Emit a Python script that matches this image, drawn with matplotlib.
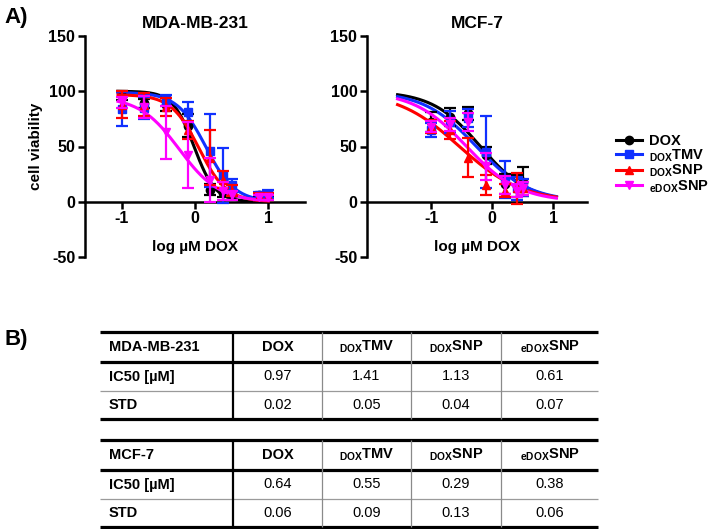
import numpy as np
import matplotlib
matplotlib.use('Agg')
import matplotlib.pyplot as plt
from matplotlib.lines import Line2D

plt.rcParams['font.family'] = ['Liberation Sans', 'DejaVu Sans']
plt.rcParams['font.weight'] = 'bold'
plt.rcParams['axes.unicode_minus'] = False
plt.rcParams['mathtext.fontset'] = 'custom'
plt.rcParams['mathtext.rm'] = 'Liberation Sans:bold'
plt.rcParams['mathtext.bf'] = 'Liberation Sans:bold'
plt.rcParams['mathtext.it'] = 'Liberation Sans:bold'

# DATA
series = ['DOX', r'$_{\mathrm{DOX}}$TMV', r'$_{\mathrm{DOX}}$SNP', r'$_{\mathrm{eDOX}}$SNP']
colors = ['black', '#1030ff', '#ff0000', '#ff00ff']
markers = ['o', 's', '^', 'v']

# MDA-MB-231, log uM DOX
mda_x = [-1.0, -0.7, -0.4, -0.1, 0.2, 0.38, 0.5, 0.87, 1.0]
mda_y = [
    [96, 89, 88, 69, 11, 8, 7, 6, 6],
    [84, 85, 92, 81, 46, 24, 15, 6, 7],
    [88, 88, 86, 65, 40, 20, 10, 5, 5],
    [90, 86, 63, 42, 20, 10, 6, 4, 4],
]
mda_err = [
    [4, 4, 6, 10, 5, 4, 3, 2, 2],
    [15, 10, 5, 9, 33, 25, 6, 3, 4],
    [12, 10, 8, 8, 25, 8, 5, 3, 3],
    [5, 10, 24, 30, 20, 8, 4, 2, 2],
]
mda_top = [100, 99, 97, 95]
mda_hill = [3.0, 2.2, 2.3, 1.6]

# MCF-7
mcf_x = [-1.0, -0.7, -0.4, -0.1, 0.2, 0.4, 0.5]
mcf_y = [
    [72, 77, 80, 42, 16, 14, 18],
    [65, 72, 76, 45, 20, 12, 13],
    [68, 65, 40, 15, 10, 12, 12],
    [68, 70, 72, 32, 15, 10, 12],
]
mcf_err = [
    [9, 8, 6, 8, 9, 10, 13],
    [6, 10, 8, 33, 17, 10, 8],
    [6, 8, 18, 9, 6, 14, 6],
    [5, 6, 8, 12, 8, 6, 6],
]
mcf_top = [100, 100, 100, 100]
mcf_hill = [1.1, 1.0, 0.85, 1.0]

# table values
col_heads = ['DOX', r'$_{\mathrm{DOX}}$TMV', r'$_{\mathrm{DOX}}$SNP', r'$_{\mathrm{eDOX}}$SNP']
mda_ic50 = [0.97, 1.41, 1.13, 0.61]
mda_std = [0.02, 0.05, 0.04, 0.07]
mcf_ic50 = [0.64, 0.55, 0.29, 0.38]
mcf_std = [0.06, 0.09, 0.13, 0.06]


def curva(x, top, ic50, hill):
    return top / (1 + 10 ** ((x - np.log10(ic50)) * hill))


def painel(ax, xs, ys, errs, tops, ic50s, hills, xcurve, titulo, xlim):
    for i in [3, 2, 1, 0]:
        xc = np.linspace(xcurve[0], xcurve[1], 200)
        ax.plot(xc, curva(xc, tops[i], ic50s[i], hills[i]), color=colors[i], lw=2.2, zorder=2 + i)
        ax.errorbar(xs, ys[i], yerr=errs[i], fmt=markers[i], color=colors[i], ms=6,
                    capsize=4, elinewidth=1.6, capthick=1.6, zorder=3 + i)
    ax.set_xlim(*xlim)
    ax.set_ylim(-50, 150)
    ax.set_yticks([-50, 0, 50, 100, 150])
    ax.set_xticks([-1, 0, 1])
    ax.spines['top'].set_visible(False)
    ax.spines['right'].set_visible(False)
    ax.spines['bottom'].set_position(('data', 0))
    for s in ['left', 'bottom']:
        ax.spines[s].set_linewidth(1.8)
    ax.tick_params(width=1.8, length=5, labelsize=11.5, pad=2)
    ax.set_title(titulo, fontsize=12.5, fontweight='bold', pad=6)
    ax.set_xlabel('log µM DOX', fontsize=11, fontweight='bold')
    ax.xaxis.set_label_coords(0.5, 0.075)
    for t in ax.get_xticklabels() + ax.get_yticklabels():
        t.set_fontweight('bold')


fig = plt.figure(figsize=(7.12, 5.29), dpi=100)
ax1 = fig.add_axes([85 / 712, 1 - 257 / 529, 220 / 712, 221 / 529])
ax2 = fig.add_axes([367 / 712, 1 - 257 / 529, 220 / 712, 221 / 529])

painel(ax1, mda_x, mda_y, mda_err, mda_top, mda_ic50, mda_hill, (-1.05, 1.0), 'MDA-MB-231', (-1.5, 1.5))
painel(ax2, mcf_x, mcf_y, mcf_err, mcf_top, mcf_ic50, mcf_hill, (-1.55, 1.05), 'MCF-7', (-2.05, 1.55))
ax1.set_ylabel('cell viability', fontsize=11, fontweight='bold', labelpad=4)

handles = [Line2D([], [], color=colors[i], marker=markers[i], lw=2.2, ms=6) for i in range(4)]
fig.legend(handles, series, loc='upper left', bbox_to_anchor=(610 / 712, 1 - 128 / 529),
           frameon=False, fontsize=10.5, handlelength=1.8, handletextpad=0.5,
           labelspacing=-0.05, borderaxespad=0)

fig.text(4 / 712, 1 - 17 / 529, 'A)', fontsize=16, fontweight='bold', va='center', ha='left')
fig.text(4 / 712, 1 - 340 / 529, 'B)', fontsize=16, fontweight='bold', va='center', ha='left')

# tabela
tax = fig.add_axes([0, 0, 1, 1])
tax.set_xlim(0, 712)
tax.set_ylim(529, 0)
tax.axis('off')

xcols = [100, 233, 322, 411, 501, 598]


def tabela(y0, nome, ic50, std):
    # linhas: topo, cabecalho, meio, fundo
    ys = [y0, y0 + 30, y0 + 59, y0 + 87]
    tax.hlines([ys[0], ys[1], ys[3]], xcols[0], xcols[-1], color='black', lw=2.3)
    tax.hlines(ys[2], xcols[0], xcols[-1], color='#9a9a9a', lw=0.9)
    tax.vlines(xcols[1], ys[0], ys[3], color='black', lw=1.6)
    tax.vlines(xcols[2:5], ys[0], ys[3], color='#8a8a8a', lw=0.9)
    yc = [(ys[0] + ys[1]) / 2, (ys[1] + ys[2]) / 2, (ys[2] + ys[3]) / 2]
    tax.text(109, yc[0], nome, fontsize=10.5, fontweight='bold', va='center', ha='left')
    tax.text(109, yc[1], 'IC50 [µM]', fontsize=10.5, fontweight='bold', va='center', ha='left')
    tax.text(109, yc[2], 'STD', fontsize=10.5, fontweight='bold', va='center', ha='left')
    for j in range(4):
        xc = (xcols[j + 1] + xcols[j + 2]) / 2
        tax.text(xc, yc[0], col_heads[j], fontsize=10.5, fontweight='bold', va='center', ha='center')
        tax.text(xc, yc[1], '%.2f' % ic50[j], fontsize=10.5, fontweight='normal', va='center', ha='center')
        tax.text(xc, yc[2], '%.2f' % std[j], fontsize=10.5, fontweight='normal', va='center', ha='center')


tabela(332, 'MDA-MB-231', mda_ic50, mda_std)
tabela(440, 'MCF-7', mcf_ic50, mcf_std)

fig.savefig('out.png', dpi=100)
